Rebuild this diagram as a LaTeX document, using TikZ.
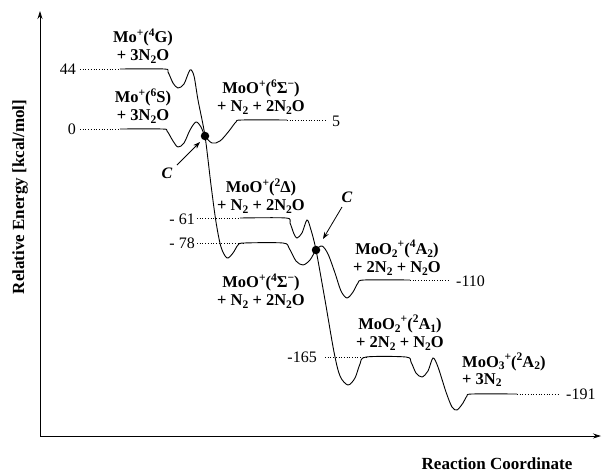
\documentclass[tikz,border=0pt]{standalone}
\usepackage{fontspec}
\setmainfont{Liberation Serif}
\usetikzlibrary{arrows.meta}
\newcommand\subs[1]{\raisebox{-0.38ex}{\fontsize{11.5}{11.5}\selectfont #1}}
\newcommand\sups[1]{\raisebox{0.85ex}{\fontsize{11.5}{11.5}\selectfont #1}}
\tikzset{
  lbl/.style={font=\bfseries\fontsize{16.5}{18}\selectfont, align=center, inner sep=0pt},
  num/.style={font=\fontsize{16}{16}\selectfont, inner sep=0pt},
  axlbl/.style={font=\bfseries\fontsize{17}{17}\selectfont, inner sep=0pt},
  clbl/.style={font=\bfseries\itshape\fontsize{16}{16}\selectfont, inner sep=0pt},
  curve/.style={line width=0.9pt},
  guide/.style={line width=0.7pt, dotted},
  pointer/.style={line width=0.8pt, -{Stealth[length=7pt,width=5pt]}},
  cdot/.style={circle, fill=black, inner sep=0pt, minimum size=8.5pt}
}
\begin{document}
\begin{tikzpicture}[x=1pt,y=-1pt]
\useasboundingbox (0,0) rectangle (602,472);
% axes
\coordinate (orig) at (40,436);
\coordinate (ytop) at (40,11);
\coordinate (xend) at (601,436);
\draw[line width=0.8pt,-{Stealth[length=8pt,width=5pt]}] (orig) -- (ytop);
\draw[line width=0.8pt,-{Stealth[length=8pt,width=5pt]}] (orig) -- (xend);
\node[axlbl, rotate=90] (ylab) at (20,197) {Relative Energy [kcal/mol]};
\node[axlbl] (xlab) at (497,464) {Reaction Coordinate};

% dotted guide lines
\draw[guide] (80,69) -- (120,69);
\draw[guide] (80,129) -- (120,129);
\draw[guide] (287,120) -- (327,120);
\draw[guide] (197,218) -- (240,218);
\draw[guide] (197,243) -- (243,243);
\draw[guide] (410,280) -- (449,280);
\draw[guide] (325,357) -- (366,357);
\draw[guide] (517,394) -- (558,394);

% curve from Mo+(6S)
\draw[curve] plot[smooth, tension=0.55] coordinates {
 (120,129) (162,129) (167,131) (173,141) (178,147) (184,143) (190,130) (196,122)
 (201,127) (205,136) (212,143) (220,141) (229,131) (236,122) (242,120) (287,120)};
% curve from Mo+(4G)
\draw[curve] plot[smooth, tension=0.5] coordinates {
 (120,69) (164,69) (168,72) (173,83) (178,88) (184,84) (190,70) (194,76)
 (198,100) (205,136) (211,185) (216,222) (221,247) (227,258) (233,253) (238,245) (244,243)
 (283,243) (289,248) (296,261) (303,265) (310,260) (316,250) (322,246) (328,254)
 (335,273) (341,291) (347,298) (353,292) (358,283) (364,280) (410,280)};
% curve from MoO+(2Delta)
\draw[curve] plot[smooth, tension=0.5] coordinates {
 (240,218) (286,218) (290,223) (294,234) (297,238) (302,233) (307,220) (311,230)
 (316,250) (325,300) (334,352) (340,376) (348,385) (355,378) (360,364) (366,357)
 (406,357) (411,362) (416,373) (422,377) (428,371) (433,358) (438,367)
 (446,392) (452,407) (457,410) (463,403) (467,396) (472,394) (517,394)};

% crossing points
\node[cdot] (x1) at (205,136) {};
\node[cdot] (x2) at (316,250) {};
\node[clbl] (c1) at (167,173) {C};
\node[clbl] (c2) at (347,197) {C};
\coordinate (c1s) at (177,165);
\coordinate (c1e) at (200,142);
\coordinate (c2s) at (342,207);
\coordinate (c2e) at (323,239);
\draw[pointer] (c1s) -- (c1e);
\draw[pointer] (c2s) -- (c2e);

% energy numbers
\node[num, anchor=east] (n44) at (76,69) {44};
\node[num, anchor=east] (n0) at (76,129) {0};
\node[num, anchor=west] (n5) at (332,121) {5};
\node[num, anchor=east] (n61) at (195,219) {- 61};
\node[num, anchor=east] (n78) at (195,243) {- 78};
\node[num, anchor=west] (n110) at (456,281) {-110};
\node[num, anchor=east] (n165) at (317,357) {-165};
\node[num, anchor=west] (n191) at (566,394) {-191};

% species labels
\node[lbl] (s4G) at (143,46) {Mo\sups{+}(\sups{4}G)\\+ 3N\subs{2}O};
\node[lbl] (s6S) at (143,106) {Mo\sups{+}(\sups{6}S)\\+ 3N\subs{2}O};
\node[lbl] (s6Sig) at (261,97) {MoO\sups{+}(\sups{6}Σ\sups{−})\\+ N\subs{2} + 2N\subs{2}O};
\node[lbl] (s2D) at (261,196) {MoO\sups{+}(\sups{2}Δ)\\+ N\subs{2} + 2N\subs{2}O};
\node[lbl] (s4Sig) at (261,291) {MoO\sups{+}(\sups{4}Σ\sups{−})\\+ N\subs{2} + 2N\subs{2}O};
\node[lbl, font=\bfseries\fontsize{16.5}{18.5}\selectfont] (s4A2) at (397,258) {MoO\subs{2}\sups{+}(\sups{4}A\subs{2})\\+ 2N\subs{2} + N\subs{2}O};
\node[lbl, font=\bfseries\fontsize{16.5}{18.5}\selectfont] (s2A1) at (400,333) {MoO\subs{2}\sups{+}(\sups{2}A\subs{1})\\+ 2N\subs{2} + N\subs{2}O};
\node[lbl, align=left, anchor=west, font=\bfseries\fontsize{16.5}{17}\selectfont] (s2A2) at (462,370) {MoO\subs{3}\sups{+}(\sups{2}A\subs{2})\\+ 3N\subs{2}};
\end{tikzpicture}
\end{document}
